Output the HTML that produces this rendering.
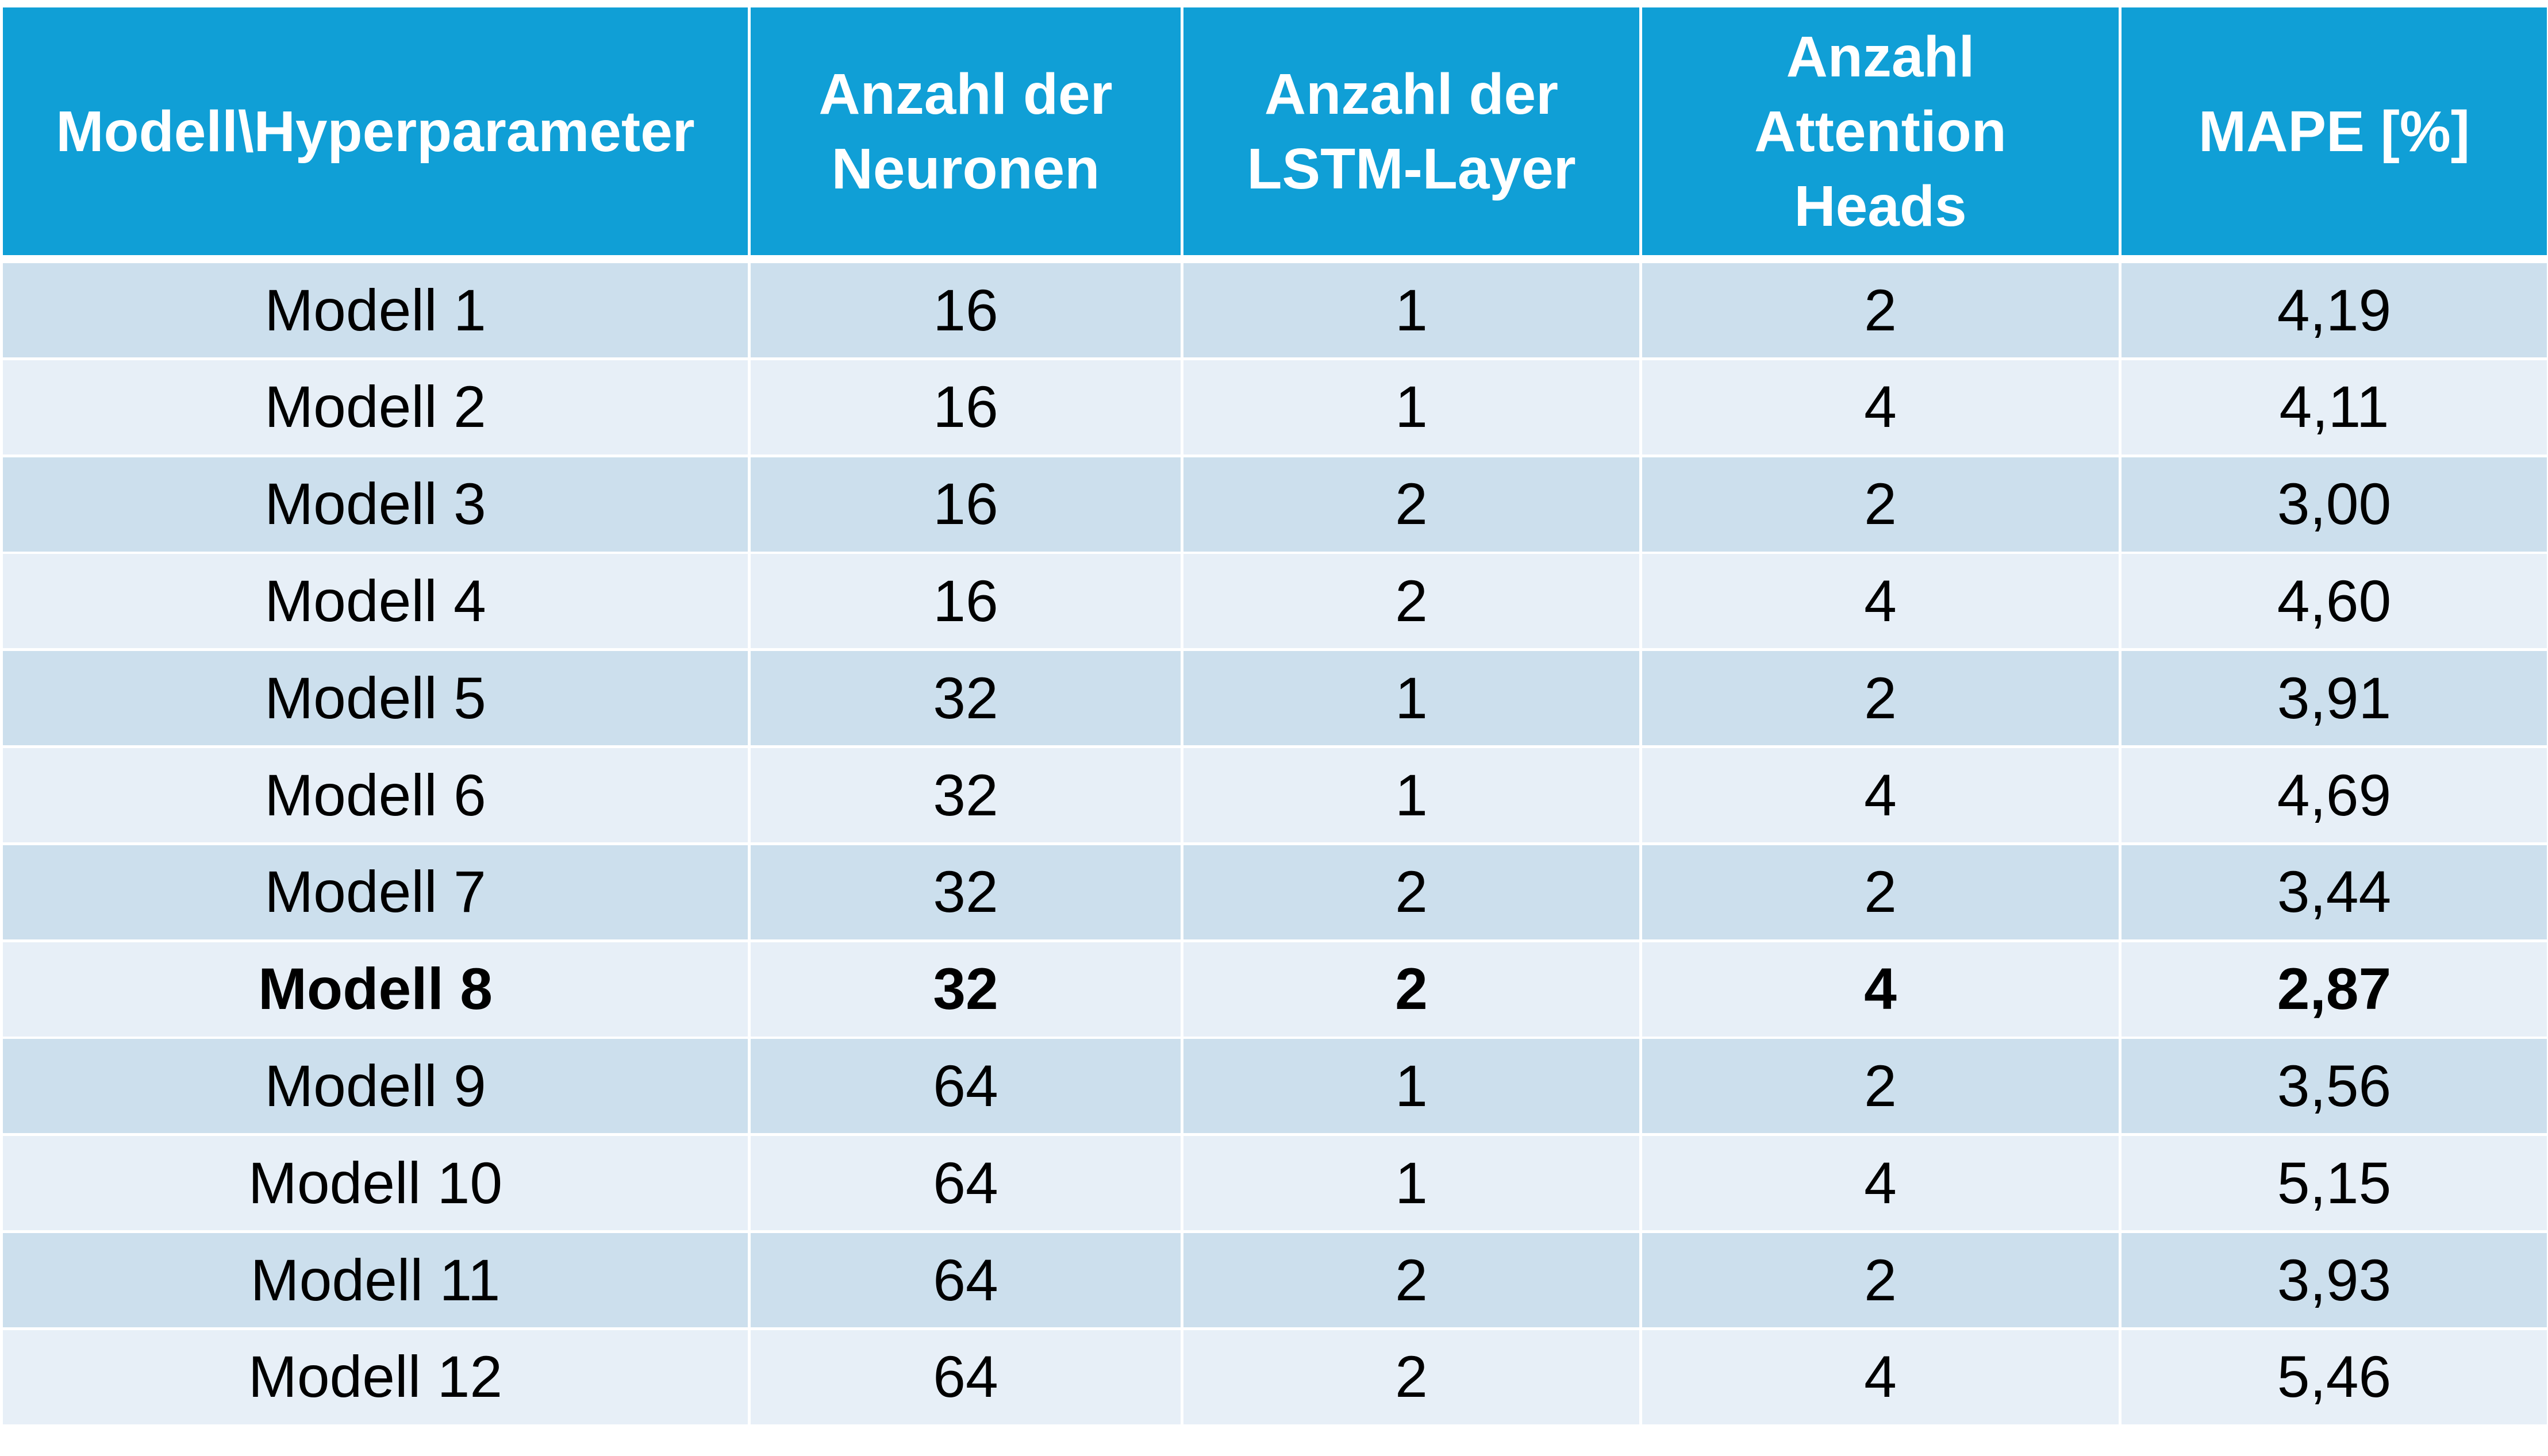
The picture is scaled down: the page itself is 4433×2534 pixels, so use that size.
<!DOCTYPE html>
<html><head><meta charset="utf-8"><style>
body{margin:0;width:4433px;height:2534px;background:#fff;position:relative;overflow:hidden;font-family:"Liberation Sans",sans-serif}
.c{position:absolute;display:flex;align-items:center;justify-content:center;text-align:center;box-sizing:border-box}
.h{background:#109fd6;color:#fff;font-weight:bold;font-size:100px;line-height:130px;top:13px;height:431px}
.r{font-size:102px;color:#000}
.o{background:#ccdfed}.e{background:#e7eff7}
.b{font-weight:bold}
</style></head><body>
<div id="t"></div>
<script>
const headers=["Modell\\Hyperparameter","Anzahl der<br>Neuronen","Anzahl der<br>LSTM-Layer","Anzahl<br>Attention<br>Heads","MAPE [%]"];
const models=["Modell 1","Modell 2","Modell 3","Modell 4","Modell 5","Modell 6","Modell 7","Modell 8","Modell 9","Modell 10","Modell 11","Modell 12"];
const neurons=["16","16","16","16","32","32","32","32","64","64","64","64"];
const layers=["1","1","2","2","1","1","2","2","1","1","2","2"];
const heads=["2","4","2","4","2","4","2","4","2","4","2","4"];
const mape=["4,19","4,11","3,00","4,60","3,91","4,69","3,44","2,87","3,56","5,15","3,93","5,46"];
const colX=[5,1306,2059,2857,3691];
const colW=[1296,748,793,829,740];
const colNames=["model","neurons","lstm-layers","attention-heads","mape"];
const t=document.getElementById('t');
for(let c=0;c<5;c++){
  const d=document.createElement('div');
  d.className='c h';
  d.style.left=colX[c]+'px';d.style.width=colW[c]+'px';
  d.innerHTML=headers[c];
  
  
  t.appendChild(d);
}
const cols=[models,neurons,layers,heads,mape];
const top0=458,pitch=168.8,rh=164;
for(let r=0;r<models.length;r++){
  for(let c=0;c<5;c++){
    const d=document.createElement('div');
    d.className='c r '+(r%2===0?'o':'e')+(r===7?' b':'');
    d.style.left=colX[c]+'px';d.style.width=colW[c]+'px';
    d.style.top=(top0+r*pitch)+'px';d.style.height=rh+'px';
    d.textContent=cols[c][r];
    
    
    t.appendChild(d);
  }
}
</script>
</body></html>
